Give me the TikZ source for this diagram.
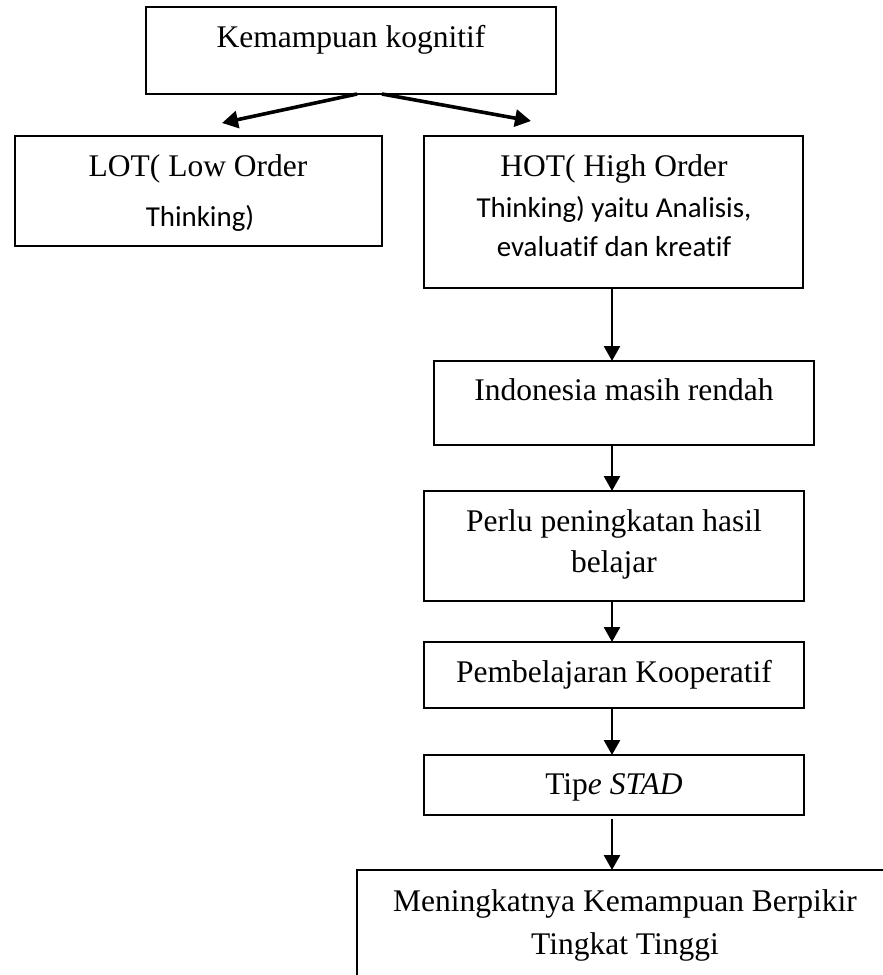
\documentclass[tikz,border=0pt]{standalone}
\usepackage{fontspec}
\setmainfont{Liberation Serif}
\newfontfamily\calfont[Ligatures={NoCommon}]{Carlito}
\usetikzlibrary{arrows.meta}
\begin{document}
\begin{tikzpicture}[x=1pt,y=-1pt,
  box/.style={draw, line width=2.2pt, inner sep=0pt, outer sep=0pt, anchor=north west},
  tx/.style={anchor=base, inner sep=0pt, font=\fontsize{31.5}{38}\selectfont},
  txs/.style={anchor=base, inner sep=0pt, font=\calfont\fontsize{28.9}{35}\selectfont},
  varr/.style={line width=2.6pt, -{Triangle[length=15pt,width=16pt]}},
  darr/.style={line width=3.6pt, -{Triangle[length=16pt,width=17pt]}}]
\clip (0,0) rectangle (883,975);
\fill[white] (0,0) rectangle (883,975);
% boxes
\node[box, minimum width=410pt, minimum height=87pt] (top) at (146,7) {};
\node[box, minimum width=367pt, minimum height=110pt] (lot) at (15,136) {};
\node[box, minimum width=379pt, minimum height=152pt] (hot) at (424,136) {};
\node[box, minimum width=380pt, minimum height=84pt] (indo) at (434,361) {};
\node[box, minimum width=380pt, minimum height=110pt] (perlu) at (424,491) {};
\node[box, minimum width=380pt, minimum height=66pt] (pemb) at (424,642) {};
\node[box, minimum width=380pt, minimum height=60pt] (tipe) at (424,755) {};
\node[box, minimum width=600pt, minimum height=200pt] (bottom) at (357,870) {};
% texts
\node[tx] (t1) at (351,47) {Kemampuan kognitif};
\node[tx] (t2a) at (198,176) {LOT( Low Order};
\node[txs] (t2b) at (200,226) {Thinking)};
\node[tx] (t3a) at (614,176) {HOT( High Order};
\node[txs] (t3b) at (614,217) {Thinking) yaitu Analisis,};
\node[txs] (t3c) at (614,256) {evaluatif dan kreatif};
\node[tx] (t4) at (624,400) {Indonesia masih rendah};
\node[tx] (t5a) at (614,531) {Perlu peningkatan hasil};
\node[tx] (t5b) at (614,572) {belajar};
\node[tx] (t6) at (614,682) {Pembelajaran Kooperatif};
\node[tx] (t7) at (614,794) {Tip\textit{e STAD}};
\node[tx] (t8a) at (625,911) {Meningkatnya Kemampuan Berpikir};
\node[tx] (t8b) at (625,954) {Tingkat Tinggi};
% connectors
\draw[darr] ([xshift=6pt]top.south) -- ([xshift=23.5pt,yshift=13pt]lot.north);
\draw[darr] ([xshift=31pt]top.south) -- ([xshift=-82.5pt,yshift=15pt]hot.north);
\draw[varr] ([xshift=-1.5pt]hot.south) -- ([xshift=-12pt]indo.north);
\draw[varr] ([xshift=-12pt]indo.south) -- ([xshift=-2pt]perlu.north);
\draw[varr] ([xshift=-2pt]perlu.south) -- ([xshift=-2pt]pemb.north);
\draw[varr] ([xshift=-2pt]pemb.south) -- ([xshift=-2pt]tipe.north);
\draw[varr] ([xshift=-2pt,yshift=-4pt]tipe.south) -- ([xshift=-45pt]bottom.north);
\end{tikzpicture}
\end{document}
